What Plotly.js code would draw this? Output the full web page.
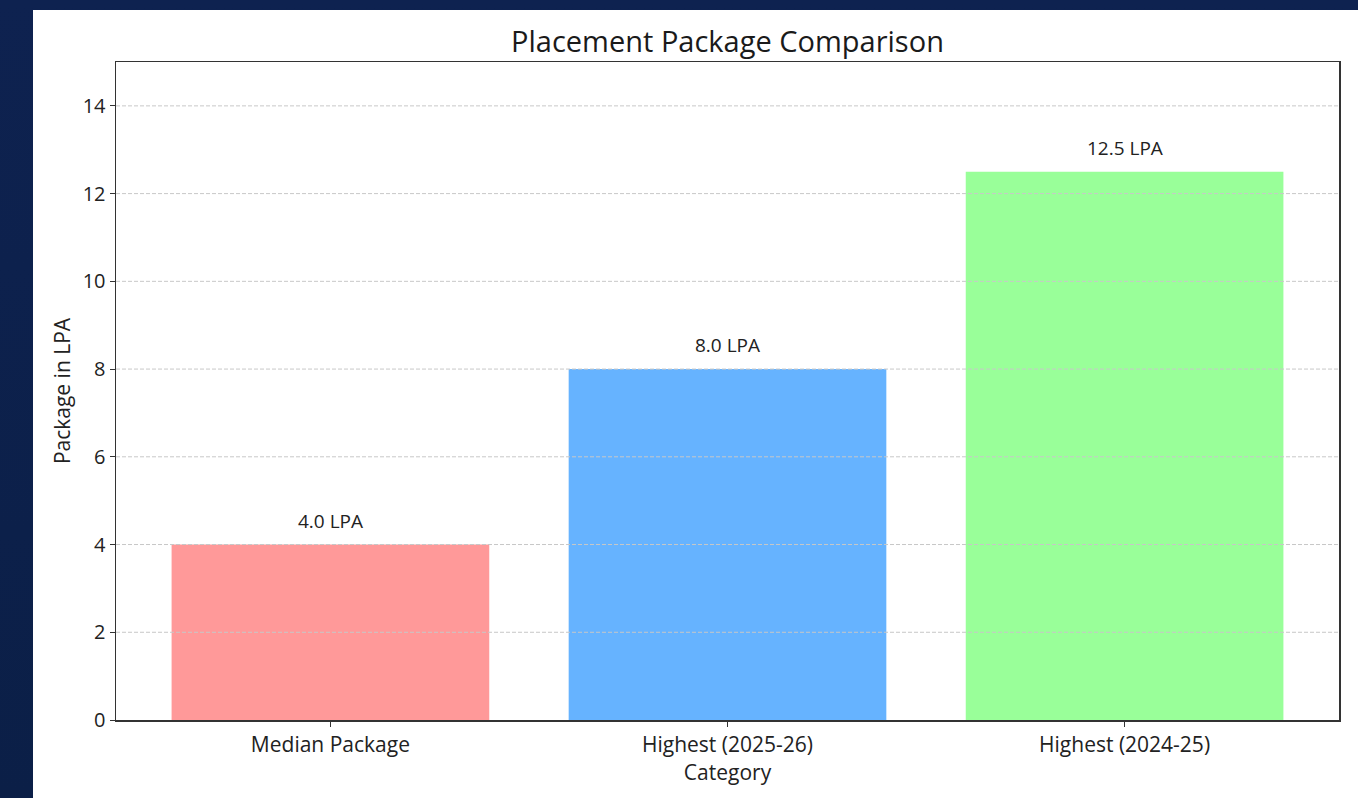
<!DOCTYPE html>
<html>
<head>
<meta charset="utf-8">
<script src="https://cdn.plot.ly/plotly-3.0.1.min.js"></script>
<style>
  html, body { margin: 0; padding: 0; width: 1358px; height: 798px; overflow: hidden;
    background: linear-gradient(180deg, #0e2250 0%, #0b1f47 100%); }
  #chart { position: absolute; left: 33px; top: 10px; width: 1325px; height: 788px; background: #ffffff; }
</style>
</head>
<body>
<div id="chart"></div>
<script>
const categories = ["Median Package", "Highest (2025-26)", "Highest (2024-25)"];
const packages = [4.0, 8.0, 12.5];
const barColors = ["#ff9999", "#66b3ff", "#99ff99"];
const yTicks = [0, 2, 4, 6, 8, 10, 12, 14];
const labels = packages.map(v => v.toFixed(1) + " LPA");

const font = "'Open Sans', Roboto, 'DejaVu Sans', sans-serif";

const trace = {
  type: "bar",
  x: categories,
  y: packages,
  marker: { color: barColors },
  width: 0.8,
  hoverinfo: "x+y"
};

const gridShapes = yTicks.filter(t => t > 0).map(t => ({
  type: "line", xref: "paper", x0: 0, x1: 1, yref: "y", y0: t, y1: t,
  line: { color: "#c8c8c8", width: 1, dash: "4px,2px" }, layer: "above"
}));

const annotations = categories.map((c, i) => ({
  x: c, y: packages[i], xref: "x", yref: "y",
  text: labels[i], showarrow: false, yanchor: "middle", yshift: 24,
  font: { family: font, size: 19, color: "#222" }
}));

const layout = {
  width: 1325, height: 788,
  paper_bgcolor: "#ffffff", plot_bgcolor: "#ffffff",
  margin: { l: 83, r: 19, t: 52, b: 78 },
  title: { text: "Placement Package Comparison", xref: "paper", x: 0.5, xanchor: "center", y: 0.959, yanchor: "middle",
    font: { family: font, size: 29, color: "#1a1a1a" } },
  xaxis: {
    type: "category", range: [-0.54, 2.54],
    showline: true, mirror: true, linecolor: "#333", linewidth: 1.5,
    ticks: "outside", ticklen: 5, tickcolor: "#333",
    tickfont: { family: font, size: 21, color: "#222" },
    title: { text: "Category", font: { family: font, size: 21, color: "#222" }, standoff: 2 },
    showgrid: false, zeroline: false
  },
  yaxis: {
    range: [0, 15], tickvals: yTicks, ticktext: yTicks.map(String),
    showline: true, mirror: true, linecolor: "#333", linewidth: 1.5,
    ticks: "outside", ticklen: 5, tickcolor: "#333",
    tickfont: { family: font, size: 20, color: "#222" },
    title: { text: "Package in LPA", font: { family: font, size: 21, color: "#222" }, standoff: 6 },
    showgrid: false, zeroline: false
  },
  shapes: gridShapes,
  annotations: annotations,
  showlegend: false,
  bargap: 0.2
};

Plotly.newPlot("chart", [trace], layout, { displayModeBar: false, staticPlot: true });
</script>
</body>
</html>
